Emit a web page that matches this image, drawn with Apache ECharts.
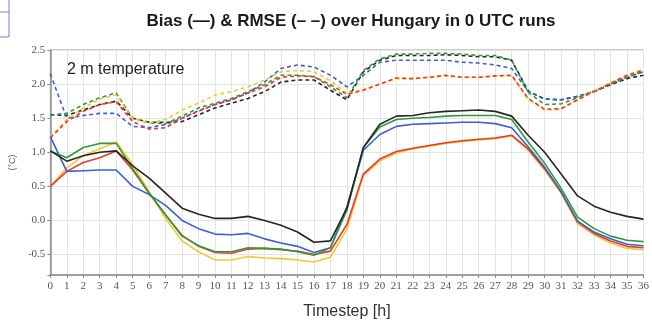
<!DOCTYPE html>
<html>
<head>
<meta charset="utf-8">
<script src="https://cdn.jsdelivr.net/npm/echarts@6/dist/echarts.min.js"></script>
<style>html,body{margin:0;padding:0;background:#fff;}#c{width:652px;height:325px;}</style>
</head>
<body>
<div id="c"></div>
<script>
const hours = [0,1,2,3,4,5,6,7,8,9,10,11,12,13,14,15,16,17,18,19,20,21,22,23,24,25,26,27,28,29,30,31,32,33,34,35,36];
const yTicks = [-0.5,0.0,0.5,1.0,1.5,2.0,2.5];

const biasBlack  = [1.02,0.87,0.95,1.0,1.02,0.8,0.62,0.4,0.18,0.09,0.03,0.03,0.06,0.0,-0.07,-0.17,-0.32,-0.3,0.18,1.07,1.41,1.53,1.54,1.58,1.6,1.61,1.62,1.6,1.53,1.25,1.0,0.68,0.36,0.21,0.12,0.06,0.02];
const biasBlue   = [1.23,0.72,0.73,0.74,0.74,0.5,0.38,0.22,0.0,-0.12,-0.2,-0.21,-0.19,-0.27,-0.33,-0.38,-0.47,-0.4,0.2,1.03,1.26,1.38,1.41,1.42,1.43,1.44,1.44,1.42,1.36,1.08,0.78,0.42,-0.01,-0.17,-0.27,-0.35,-0.37];
const biasGreen  = [1.02,0.92,1.07,1.13,1.13,0.76,0.4,0.08,-0.23,-0.37,-0.46,-0.46,-0.4,-0.41,-0.42,-0.46,-0.51,-0.4,0.15,1.07,1.37,1.48,1.5,1.51,1.53,1.54,1.54,1.54,1.48,1.15,0.84,0.47,0.05,-0.12,-0.23,-0.29,-0.31];
const biasRed    = [0.5,0.72,0.85,0.92,1.02,0.74,0.4,0.08,-0.22,-0.38,-0.47,-0.48,-0.42,-0.41,-0.43,-0.45,-0.5,-0.45,-0.06,0.68,0.9,1.01,1.06,1.1,1.14,1.17,1.19,1.21,1.25,1.05,0.76,0.42,-0.02,-0.19,-0.3,-0.38,-0.4];
const biasYellow = [0.5,0.77,0.95,1.05,1.15,0.82,0.42,0.03,-0.3,-0.46,-0.58,-0.58,-0.53,-0.55,-0.56,-0.58,-0.61,-0.54,-0.13,0.66,0.87,0.99,1.05,1.09,1.13,1.16,1.18,1.2,1.24,1.03,0.74,0.4,-0.05,-0.21,-0.33,-0.41,-0.43];

const rmseBlack  = [1.55,1.54,1.62,1.7,1.75,1.5,1.44,1.44,1.45,1.55,1.65,1.72,1.79,1.89,2.03,2.06,2.06,1.91,1.77,2.18,2.35,2.42,2.42,2.42,2.43,2.42,2.4,2.4,2.35,1.9,1.78,1.77,1.82,1.89,1.99,2.08,2.13];
const rmseBlue   = [2.15,1.5,1.54,1.57,1.57,1.38,1.36,1.41,1.5,1.61,1.7,1.77,1.87,2.03,2.23,2.28,2.25,2.13,1.96,2.13,2.32,2.35,2.35,2.35,2.35,2.32,2.31,2.28,2.23,1.89,1.78,1.77,1.82,1.89,2.01,2.1,2.18];
const rmseGreen  = [1.55,1.57,1.7,1.8,1.87,1.5,1.43,1.42,1.53,1.65,1.72,1.79,1.89,1.99,2.13,2.13,2.11,1.96,1.8,2.2,2.37,2.44,2.44,2.45,2.45,2.44,2.42,2.42,2.35,1.88,1.7,1.71,1.8,1.9,2.0,2.1,2.18];
const rmseRed    = [1.21,1.45,1.6,1.7,1.74,1.45,1.34,1.36,1.5,1.6,1.7,1.77,1.87,1.96,2.1,2.12,2.11,1.99,1.85,1.91,2.0,2.09,2.08,2.1,2.13,2.1,2.1,2.12,2.13,1.79,1.63,1.64,1.77,1.89,2.01,2.13,2.2];
const rmseYellow = [1.22,1.48,1.65,1.78,1.84,1.5,1.43,1.48,1.62,1.72,1.84,1.89,1.96,2.06,2.18,2.2,2.18,2.05,1.86,1.92,2.0,2.08,2.08,2.1,2.12,2.1,2.1,2.12,2.12,1.78,1.62,1.63,1.77,1.9,2.02,2.13,2.22];

const colors = {black:'#262626', blue:'#3d5fd1', green:'#2f9a3c', red:'#e63b2a', yellow:'#f5c82f'};

function pairs(arr){ return hours.map((h,i)=>[h, arr[i]]); }
function line(name, arr, color, dashed){
  return {
    name, type:'line', data:pairs(arr), symbol:'none', smooth:false,
    lineStyle:{color, width:1.6, type: dashed ? [4,3] : 'solid'},
    itemStyle:{color}, silent:true, animation:false
  };
}

const chart = echarts.init(document.getElementById('c'), null, {renderer:'canvas'});
chart.setOption({
  animation:false,
  backgroundColor:'#fff',
  title:[
    {text:'Bias (—) & RMSE (– –) over Hungary in 0 UTC runs', left:346, top:8, textAlign:'center',
     textStyle:{fontFamily:'Liberation Sans, Arial, sans-serif', fontWeight:'bold', fontSize:17, color:'#1a1a1a'}},
    {text:'2 m temperature', left:62, top:57,
     textStyle:{fontFamily:'Liberation Sans, Arial, sans-serif', fontWeight:'normal', fontSize:16, color:'#222'}}
  ],
  graphic:[
    {type:'line', shape:{x1:9,y1:0,x2:9,y2:37}, style:{stroke:'#7580d4', lineWidth:1}},
    {type:'line', shape:{x1:0,y1:12,x2:9,y2:12}, style:{stroke:'#7580d4', lineWidth:1}},
    {type:'line', shape:{x1:0,y1:37,x2:9,y2:37}, style:{stroke:'#7580d4', lineWidth:1}}
  ],
  grid:{left:49, right:4, top:50, bottom:47, show:true, borderColor:'#9a9a9a', borderWidth:1},
  xAxis:{
    type:'value', min:0, max:36, interval:1,
    name:'Timestep [h]', nameLocation:'middle', nameGap:29,
    nameTextStyle:{fontFamily:'Liberation Sans, Arial, sans-serif', fontSize:16, color:'#333'},
    axisLine:{show:true, onZero:false, lineStyle:{color:'#8a8a8a', width:1.5}},
    axisTick:{show:true, length:3, lineStyle:{color:'#8a8a8a'}},
    axisLabel:{fontFamily:'Liberation Serif, serif', fontSize:11, color:'#555', margin:6},
    splitLine:{show:true, lineStyle:{color:'#e4e4e4', width:1}}
  },
  yAxis:{
    type:'value', min:-0.8, max:2.5, splitNumber:7,
    name:'(°C)', nameLocation:'middle', nameGap:23, nameRotate:90,
    nameTextStyle:{fontFamily:'Liberation Sans, Arial, sans-serif', fontSize:9, color:'#555'},
    axisLine:{show:true, lineStyle:{color:'#8a8a8a', width:1.5}},
    axisTick:{show:true, length:3, lineStyle:{color:'#8a8a8a'}},
    axisLabel:{fontFamily:'Liberation Serif, serif', fontSize:11, color:'#555', margin:5,
      formatter:function(v){
        for (const t of yTicks){ if (Math.abs(t - v) < 1e-6) return t.toFixed(1); }
        return '';
      }},
    splitLine:{show:true, lineStyle:{color:'#e4e4e4', width:1}}
  },
  series:[
    line('RMSE black', rmseBlack, colors.black, true),
    line('RMSE blue', rmseBlue, colors.blue, true),
    line('RMSE green', rmseGreen, colors.green, true),
    line('RMSE yellow', rmseYellow, colors.yellow, true),
    line('RMSE red', rmseRed, colors.red, true),
    line('Bias yellow', biasYellow, colors.yellow, false),
    line('Bias red', biasRed, colors.red, false),
    line('Bias blue', biasBlue, colors.blue, false),
    line('Bias green', biasGreen, colors.green, false),
    line('Bias black', biasBlack, colors.black, false)
  ]
});
</script>
</body>
</html>
